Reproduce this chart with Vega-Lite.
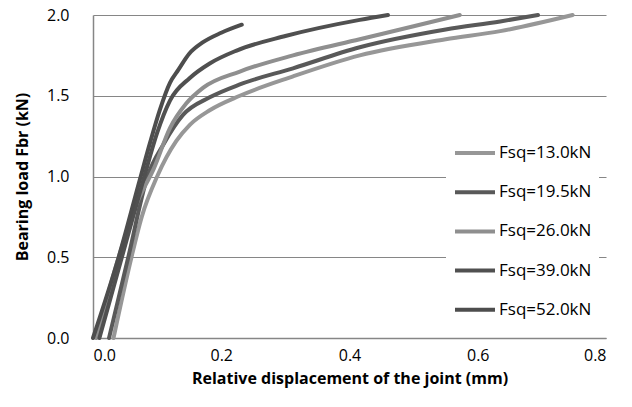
{
  "$schema": "https://vega.github.io/schema/vega-lite/v6.json",
  "width": 513,
  "height": 323,
  "autosize": {"type": "none"},
  "padding": {"left": 93, "top": 15, "right": 26, "bottom": 69},
  "background": "white",
  "config": {
    "view": {"stroke": null},
    "font": "Open Sans"
  },
  "data": {
    "values": [
      {"s": "Fsq=13.0kN", "o": 1, "x": 0.032, "y": 0},
      {"s": "Fsq=13.0kN", "o": 1, "x": 0.06, "y": 0.5},
      {"s": "Fsq=13.0kN", "o": 1, "x": 0.076, "y": 0.75},
      {"s": "Fsq=13.0kN", "o": 1, "x": 0.1, "y": 1.0},
      {"s": "Fsq=13.0kN", "o": 1, "x": 0.13, "y": 1.22},
      {"s": "Fsq=13.0kN", "o": 1, "x": 0.151, "y": 1.32},
      {"s": "Fsq=13.0kN", "o": 1, "x": 0.182, "y": 1.41},
      {"s": "Fsq=13.0kN", "o": 1, "x": 0.229, "y": 1.5},
      {"s": "Fsq=13.0kN", "o": 1, "x": 0.312, "y": 1.62},
      {"s": "Fsq=13.0kN", "o": 1, "x": 0.416, "y": 1.75},
      {"s": "Fsq=13.0kN", "o": 1, "x": 0.55, "y": 1.85},
      {"s": "Fsq=13.0kN", "o": 1, "x": 0.635, "y": 1.9},
      {"s": "Fsq=13.0kN", "o": 1, "x": 0.748, "y": 2.0},
      {"s": "Fsq=19.5kN", "o": 2, "x": 0.025, "y": 0},
      {"s": "Fsq=19.5kN", "o": 2, "x": 0.055, "y": 0.5},
      {"s": "Fsq=19.5kN", "o": 2, "x": 0.085, "y": 1.0},
      {"s": "Fsq=19.5kN", "o": 2, "x": 0.11, "y": 1.2},
      {"s": "Fsq=19.5kN", "o": 2, "x": 0.14, "y": 1.38},
      {"s": "Fsq=19.5kN", "o": 2, "x": 0.182, "y": 1.49},
      {"s": "Fsq=19.5kN", "o": 2, "x": 0.229, "y": 1.57},
      {"s": "Fsq=19.5kN", "o": 2, "x": 0.312, "y": 1.67},
      {"s": "Fsq=19.5kN", "o": 2, "x": 0.416, "y": 1.8},
      {"s": "Fsq=19.5kN", "o": 2, "x": 0.55, "y": 1.91},
      {"s": "Fsq=19.5kN", "o": 2, "x": 0.635, "y": 1.96},
      {"s": "Fsq=19.5kN", "o": 2, "x": 0.694, "y": 2.0},
      {"s": "Fsq=26.0kN", "o": 3, "x": 0.005, "y": 0},
      {"s": "Fsq=26.0kN", "o": 3, "x": 0.04, "y": 0.5},
      {"s": "Fsq=26.0kN", "o": 3, "x": 0.07, "y": 0.85},
      {"s": "Fsq=26.0kN", "o": 3, "x": 0.095, "y": 1.05},
      {"s": "Fsq=26.0kN", "o": 3, "x": 0.12, "y": 1.3},
      {"s": "Fsq=26.0kN", "o": 3, "x": 0.145, "y": 1.45},
      {"s": "Fsq=26.0kN", "o": 3, "x": 0.172, "y": 1.55},
      {"s": "Fsq=26.0kN", "o": 3, "x": 0.229, "y": 1.65},
      {"s": "Fsq=26.0kN", "o": 3, "x": 0.312, "y": 1.75},
      {"s": "Fsq=26.0kN", "o": 3, "x": 0.416, "y": 1.85},
      {"s": "Fsq=26.0kN", "o": 3, "x": 0.5, "y": 1.93},
      {"s": "Fsq=26.0kN", "o": 3, "x": 0.572, "y": 2.0},
      {"s": "Fsq=39.0kN", "o": 4, "x": 0.01, "y": 0},
      {"s": "Fsq=39.0kN", "o": 4, "x": 0.045, "y": 0.5},
      {"s": "Fsq=39.0kN", "o": 4, "x": 0.08, "y": 1.0},
      {"s": "Fsq=39.0kN", "o": 4, "x": 0.1, "y": 1.27},
      {"s": "Fsq=39.0kN", "o": 4, "x": 0.12, "y": 1.47},
      {"s": "Fsq=39.0kN", "o": 4, "x": 0.151, "y": 1.61},
      {"s": "Fsq=39.0kN", "o": 4, "x": 0.182, "y": 1.7},
      {"s": "Fsq=39.0kN", "o": 4, "x": 0.224, "y": 1.78},
      {"s": "Fsq=39.0kN", "o": 4, "x": 0.3, "y": 1.87},
      {"s": "Fsq=39.0kN", "o": 4, "x": 0.416, "y": 1.97},
      {"s": "Fsq=39.0kN", "o": 4, "x": 0.46, "y": 2.0},
      {"s": "Fsq=52.0kN", "o": 5, "x": 0.0, "y": 0},
      {"s": "Fsq=52.0kN", "o": 5, "x": 0.04, "y": 0.5},
      {"s": "Fsq=52.0kN", "o": 5, "x": 0.073, "y": 0.98},
      {"s": "Fsq=52.0kN", "o": 5, "x": 0.089, "y": 1.21},
      {"s": "Fsq=52.0kN", "o": 5, "x": 0.104, "y": 1.41},
      {"s": "Fsq=52.0kN", "o": 5, "x": 0.12, "y": 1.58},
      {"s": "Fsq=52.0kN", "o": 5, "x": 0.133, "y": 1.66},
      {"s": "Fsq=52.0kN", "o": 5, "x": 0.15, "y": 1.76},
      {"s": "Fsq=52.0kN", "o": 5, "x": 0.171, "y": 1.83},
      {"s": "Fsq=52.0kN", "o": 5, "x": 0.2, "y": 1.89},
      {"s": "Fsq=52.0kN", "o": 5, "x": 0.232, "y": 1.94}
    ]
  },
  "mark": {"type": "line", "strokeWidth": 4, "strokeCap": "round", "strokeJoin": "round", "interpolate": "monotone"},
  "encoding": {
    "x": {
      "field": "x", "type": "quantitative",
      "scale": {"domain": [0, 0.8], "nice": false, "zero": false},
      "axis": {
        "title": "Relative displacement of the joint (mm)",
        "values": [0, 0.2, 0.4, 0.6, 0.8], "format": ".1f",
        "grid": false, "ticks": false, "domainColor": "#868686", "domainWidth": 1.5,
        "labelFontSize": 16, "labelColor": "#000", "labelPadding": 9,
        "titleFontSize": 16, "titleFontWeight": "bold", "titleColor": "#000", "titlePadding": 7
      }
    },
    "y": {
      "field": "y", "type": "quantitative",
      "scale": {"domain": [0, 2], "nice": false},
      "axis": {
        "title": "Bearing load Fbr (kN)",
        "values": [0, 0.5, 1, 1.5, 2], "format": ".1f",
        "grid": true, "gridColor": "#868686", "gridWidth": 1.2, "gridOpacity": 1,
        "ticks": false, "domainColor": "#868686", "domainWidth": 1.5,
        "labelFontSize": 16, "labelColor": "#000", "labelPadding": 24,
        "titleFontSize": 16, "titleFontWeight": "bold", "titleColor": "#000", "titlePadding": 16
      }
    },
    "color": {
      "field": "s", "type": "nominal",
      "scale": {
        "domain": ["Fsq=13.0kN", "Fsq=19.5kN", "Fsq=26.0kN", "Fsq=39.0kN", "Fsq=52.0kN"],
        "range": ["#979797", "#595959", "#8f8f8f", "#505050", "#4d4d4d"]
      },
      "legend": {
        "title": null, "orient": "none", "legendX": 353, "legendY": 109,
        "fillColor": "white", "padding": 7,
        "symbolType": "stroke", "symbolSize": 1600, "symbolStrokeWidth": 4,
        "labelFontSize": 17, "labelColor": "#000", "labelOffset": 2,
        "rowPadding": 9.2
      }
    },
    "order": {"field": "o"}
  }
}
